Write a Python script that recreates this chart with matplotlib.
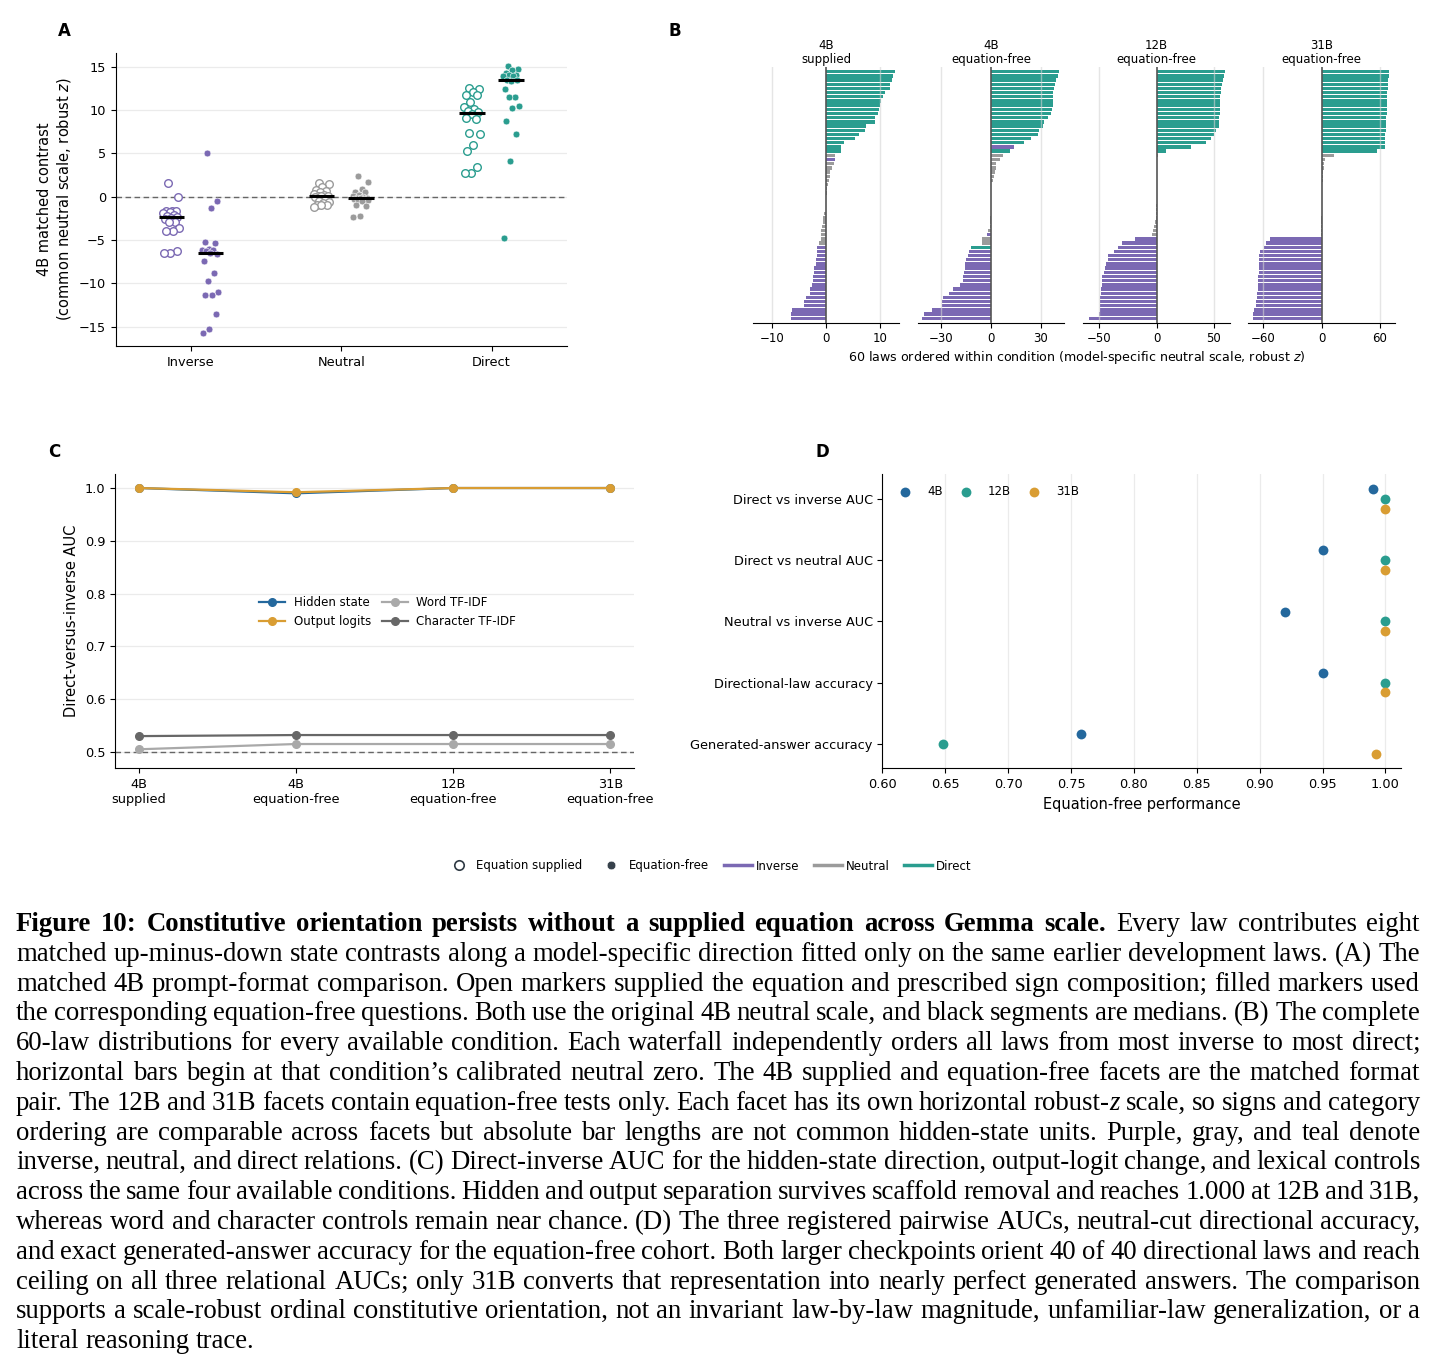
import numpy as np
import matplotlib
matplotlib.use("Agg")
import matplotlib.pyplot as plt
from matplotlib.lines import Line2D

W, H = 1439, 1371
DPI = 100

PURPLE = "#7b69b3"
GRAY = "#9b9b9b"
TEAL = "#2a9d8f"
BLUE = "#24689d"
ORANGE = "#d99d33"
LGRAY = "#a9a9a9"
DGRAY = "#676767"
GRID = "#ebebeb"

TICK_FS = 9.3
LABEL_FS = 10.5
SMALL_FS = 8.5

# ======================
# data
# ======================
# A / B: 4B with supplied equation (model neutral scale == common 4B scale)
sup4_inverse = [1.58, 0.0, -1.65, -1.65, -1.7, -1.8, -1.9, -2.15, -2.2, -2.3,
                -2.45, -2.6, -2.9, -2.95, -3.6, -4.0, -4.0, -6.25, -6.45, -6.5]
sup4_neutral = [1.62, 1.5, 1.1, 0.8, 0.7, 0.6, 0.3, 0.2, 0.12, 0.08,
                0.05, 0.02, -0.4, -0.5, -0.6, -0.7, -0.9, -0.9, -1.0, -1.2]
sup4_direct = [12.6, 12.4, 12.1, 11.7, 11.7, 10.9, 10.4, 10.1, 9.9, 9.75,
               9.6, 9.1, 9.0, 7.4, 7.2, 6.0, 5.3, 3.4, 2.8, 2.8]

# A: 4B equation-free on the common 4B scale
free4_common_inverse = [5.0, -0.54, -1.27, -5.27, -5.3, -6.0, -6.1, -6.2, -6.3, -6.6,
                        -6.5, -7.4, -8.85, -9.73, -10.96, -11.3, -11.3, -13.5, -15.3, -15.7]
free4_common_neutral = [2.4, 1.65, 0.85, 0.6, 0.5, 0.2, 0.1, 0.0, -0.1, -0.15,
                        -0.2, -0.25, -0.3, -0.35, -0.4, -0.5, -1.0, -1.1, -2.2, -2.35]
free4_common_direct = [15.1, 14.8, 14.6, 14.3, 14.1, 14.1, 14.0, 13.9, 13.5, 13.5,
                       13.4, 12.5, 11.5, 11.5, 10.5, 10.3, 8.7, 7.3, 4.1, -4.8]

# B: equation-free, model-specific scales
free4_inverse = [14.0, -0.3, -2.6, -13.2, -13.6, -15.0, -15.4, -15.8, -16.2, -16.8,
                 -16.8, -18.8, -22.6, -25.2, -28.6, -29.4, -29.4, -35.2, -40.0, -41.2]
free4_neutral = [7.0, 5.2, 2.8, 2.8, 2.4, 2.0, 1.2, 0.3, 0.2, 0.1,
                 0.05, 0.02, -0.02, -0.1, -0.45, -0.6, -0.8, -2.0, -5.2, -5.3]
free4_direct = [40.8, 40.0, 38.8, 38.6, 38.0, 37.4, 37.2, 37.0, 37.0, 36.6,
                36.2, 34.0, 31.6, 31.2, 28.6, 28.0, 24.0, 20.0, 11.6, -12.0]

free12_inverse = [-19.2, -30.5, -33.4, -37.5, -42.7, -42.7, -44.5, -45.1, -46.2, -47.4,
                  -47.7, -48.0, -48.3, -48.8, -49.1, -49.4, -49.4, -49.7, -50.0, -58.7]
free12_neutral = [0.9, 0.7, 0.5, 0.4, 0.3, 0.2, 0.15, 0.1, 0.05, 0.02,
                  -0.02, -0.05, -0.1, -0.2, -0.4, -0.9, -1.5, -2.6, -2.9, -4.1]
free12_direct = [59.9, 58.7, 58.1, 57.0, 56.4, 56.1, 55.8, 55.5, 55.5, 55.2,
                 55.2, 54.9, 54.7, 54.4, 52.0, 50.3, 47.4, 43.0, 29.9, 8.4]

free31_inverse = [-53.1, -57.6, -59.7, -63.8, -64.1, -64.5, -64.8, -64.8, -64.8, -65.2,
                  -65.2, -65.5, -65.9, -66.6, -66.9, -67.2, -67.6, -69.7, -70.3, -70.7]
free31_neutral = [13.1, 3.4, 2.8, 2.1, 1.7, 1.4, 1.0, 0.7, 0.4, 0.2,
                  0.1, 0.05, 0.0, -0.05, -0.1, -0.2, -0.3, -0.5, -0.7, -1.0]
free31_direct = [69.7, 69.3, 69.0, 68.6, 68.3, 67.9, 67.9, 67.6, 67.6, 67.2,
                 67.2, 66.9, 66.9, 66.6, 66.6, 65.9, 65.5, 65.5, 65.2, 57.6]

facet_titles = ["4B\nsupplied", "4B\nequation-free", "12B\nequation-free", "31B\nequation-free"]
facet_ticks = [[-10, 0, 10], [-30, 0, 30], [-50, 0, 50], [-60, 0, 60]]

# C: direct-versus-inverse AUC
conditions = ["4B\nsupplied", "4B\nequation-free", "12B\nequation-free", "31B\nequation-free"]
auc_hidden = [1.0, 0.990, 1.0, 1.0]
auc_logits = [1.0, 0.992, 1.0, 1.0]
auc_word = [0.505, 0.515, 0.515, 0.515]
auc_char = [0.530, 0.532, 0.532, 0.532]

# D: equation-free performance
metrics = ["Direct vs inverse AUC", "Direct vs neutral AUC", "Neutral vs inverse AUC",
           "Directional-law accuracy", "Generated-answer accuracy"]
perf_4b = [0.990, 0.950, 0.920, 0.950, 0.758]
perf_12b = [1.0, 1.0, 1.0, 1.0, 0.648]
perf_31b = [1.0, 1.0, 1.0, 1.0, 0.9925]

caption = [
    [("Figure 10: Constitutive orientation persists without a supplied equation across Gemma scale.", "bold"),
     (" Every law contributes eight", "normal")],
    [("matched up-minus-down state contrasts along a model-specific direction fitted only on the same earlier development laws. (A) The", "normal")],
    [("matched 4B prompt-format comparison. Open markers supplied the equation and prescribed sign composition; filled markers used", "normal")],
    [("the corresponding equation-free questions. Both use the original 4B neutral scale, and black segments are medians. (B) The complete", "normal")],
    [("60-law distributions for every available condition. Each waterfall independently orders all laws from most inverse to most direct;", "normal")],
    [("horizontal bars begin at that condition\u2019s calibrated neutral zero. The 4B supplied and equation-free facets are the matched format", "normal")],
    [("pair. The 12B and 31B facets contain equation-free tests only. Each facet has its own horizontal robust-", "normal"),
     ("z", "italic"), (" scale, so signs and category", "normal")],
    [("ordering are comparable across facets but absolute bar lengths are not common hidden-state units. Purple, gray, and teal denote", "normal")],
    [("inverse, neutral, and direct relations. (C) Direct-inverse AUC for the hidden-state direction, output-logit change, and lexical controls", "normal")],
    [("across the same four available conditions. Hidden and output separation survives scaffold removal and reaches 1.000 at 12B and 31B,", "normal")],
    [("whereas word and character controls remain near chance. (D) The three registered pairwise AUCs, neutral-cut directional accuracy,", "normal")],
    [("and exact generated-answer accuracy for the equation-free cohort. Both larger checkpoints orient 40 of 40 directional laws and reach", "normal")],
    [("ceiling on all three relational AUCs; only 31B converts that representation into nearly perfect generated answers. The comparison", "normal")],
    [("supports a scale-robust ordinal constitutive orientation, not an invariant law-by-law magnitude, unfamiliar-law generalization, or a", "normal")],
    [("literal reasoning trace.", "normal")],
]

# ======================
# helpers
# ======================
fig = plt.figure(figsize=(W / DPI, H / DPI), dpi=DPI)


def px_axes(left, top, right, bottom):
    return fig.add_axes([left / W, 1 - bottom / H, (right - left) / W, (bottom - top) / H])


def jitter(n, width=0.11):
    # fixed low-discrepancy spread, no randomness
    return ((np.arange(n) * 0.618034 + 0.31) % 1.0 - 0.5) * width


def panel_letter(x, y, s):
    fig.text(x / W, 1 - y / H, s, fontsize=12, fontweight="bold", ha="center", va="center")


# ======================
# A
# ======================
axA = px_axes(115.7, 52.7, 566.7, 346)
groups = [
    (0, sup4_inverse, free4_common_inverse, PURPLE),
    (1, sup4_neutral, free4_common_neutral, GRAY),
    (2, sup4_direct, free4_common_direct, TEAL),
]
for pos, sup, free, col in groups:
    for vals, dx, filled in ((sup, -0.13, False), (free, 0.13, True)):
        vals = np.asarray(vals, dtype=float)
        xs = pos + dx + jitter(len(vals))
        if filled:
            axA.scatter(xs, vals, s=24, color=col, edgecolor="white", linewidth=0.4, zorder=3)
        else:
            axA.scatter(xs, vals, s=30, facecolor="white", edgecolor=col, linewidth=1.0, zorder=3)
        med = np.median(vals)
        axA.plot([pos + dx - 0.085, pos + dx + 0.085], [med, med], color="black", lw=2.2,
                 zorder=4, solid_capstyle="butt")
axA.axhline(0, color="#666666", lw=1.0, ls=(0, (4, 2.5)), zorder=2)
axA.set_xlim(-0.5, 2.5)
axA.set_xticks([0, 1, 2])
axA.set_xticklabels(["Inverse", "Neutral", "Direct"])
axA.set_yticks([-15, -10, -5, 0, 5, 10, 15])
axA.yaxis.grid(True, color=GRID, lw=0.9)
axA.set_axisbelow(True)
axA.set_ylabel("4B matched contrast\n(common neutral scale, robust $z$)", fontsize=LABEL_FS)
axA.tick_params(labelsize=TICK_FS)
for sp in ("top", "right"):
    axA.spines[sp].set_visible(False)
panel_letter(64, 30.5, "A")

# ======================
# B
# ======================
facets = [
    (sup4_inverse, sup4_neutral, sup4_direct),
    (free4_inverse, free4_neutral, free4_direct),
    (free12_inverse, free12_neutral, free12_direct),
    (free31_inverse, free31_neutral, free31_direct),
]
lefts = [752.7, 917.7, 1083.3, 1248.3]
for left, (inv, neu, dire), title, ticks in zip(lefts, facets, facet_titles, facet_ticks):
    ax = px_axes(left, 67.3, left + 146.6, 322.7)
    vals = np.concatenate([inv, neu, dire])
    cols = np.array([PURPLE] * len(inv) + [GRAY] * len(neu) + [TEAL] * len(dire))
    order = np.argsort(vals, kind="stable")
    ax.barh(np.arange(len(vals)), vals[order], color=cols[order], height=0.8, zorder=2)
    lim = np.abs(vals).max() * 1.07
    ax.set_xlim(-lim, lim)
    ax.set_ylim(-1.05, len(vals) + 0.05)
    ax.set_xticks(ticks)
    ax.set_xticklabels([f"{t}".replace("-", "\u2212") for t in ticks])
    ax.set_yticks([])
    for t in ticks:
        if t != 0:
            ax.axvline(t, color="#d4d4d4", alpha=0.6, lw=1.0, zorder=3)
    ax.axvline(0, color="#555555", lw=1.2, zorder=4)
    for sp in ("top", "right", "left"):
        ax.spines[sp].set_visible(False)
    ax.tick_params(labelsize=8.5, length=3.5)
    ax.set_title(title, fontsize=8.5, pad=3, linespacing=1.1)
fig.text(1077 / W, 1 - 358 / H,
         "60 laws ordered within condition (model-specific neutral scale, robust $z$)",
         fontsize=9.1, ha="center", va="center")
panel_letter(675, 30.5, "B")

# ======================
# C
# ======================
axC = px_axes(115.1, 474.3, 634, 768.3)
xc = np.arange(len(conditions))
axC.plot(xc, auc_hidden, color=BLUE, marker="o", ms=5.5, lw=1.6, label="Hidden state", zorder=3)
axC.plot(xc, auc_logits, color=ORANGE, marker="o", ms=5.5, lw=1.6, label="Output logits", zorder=3)
axC.plot(xc, auc_word, color=LGRAY, marker="o", ms=5.5, lw=1.6, label="Word TF-IDF", zorder=3)
axC.plot(xc, auc_char, color=DGRAY, marker="o", ms=5.5, lw=1.6, label="Character TF-IDF", zorder=3)
axC.axhline(0.5, color="#666666", lw=1.0, ls=(0, (4, 2.5)), zorder=2)
axC.set_xlim(-0.15, 3.15)
axC.set_ylim(0.469, 1.026)
axC.set_yticks([0.5, 0.6, 0.7, 0.8, 0.9, 1.0])
axC.set_xticks(xc)
axC.set_xticklabels(conditions, linespacing=1.15)
axC.yaxis.grid(True, color=GRID, lw=0.9)
axC.set_axisbelow(True)
axC.set_ylabel("Direct-versus-inverse AUC", fontsize=LABEL_FS)
axC.tick_params(labelsize=TICK_FS)
for sp in ("top", "right"):
    axC.spines[sp].set_visible(False)
axC.legend(loc="center", bbox_to_anchor=(0.525, 0.532), ncol=2, frameon=False, fontsize=SMALL_FS,
           handlelength=2.2, handletextpad=0.75, columnspacing=0.9, labelspacing=0.5)
panel_letter(54, 452, "C")

# ======================
# D
# ======================
axD = px_axes(882.4, 474.3, 1400.5, 768.3)
yd = np.arange(len(metrics))
for vals, dy, col, lab in ((perf_4b, -0.16, BLUE, "4B"), (perf_12b, 0.0, TEAL, "12B"),
                           (perf_31b, 0.16, ORANGE, "31B")):
    axD.scatter(vals, yd + dy, s=50, color=col, zorder=3, label=lab, linewidths=0)
axD.set_xlim(0.60, 1.012)
axD.set_ylim(len(metrics) - 0.6, -0.4)
axD.set_yticks(yd)
axD.set_yticklabels(metrics)
axD.set_xticks(np.arange(0.60, 1.001, 0.05))
axD.set_xticklabels([f"{v:.2f}" for v in np.arange(0.60, 1.001, 0.05)])
axD.xaxis.grid(True, color=GRID, lw=0.9)
axD.set_axisbelow(True)
axD.set_xlabel("Equation-free performance", fontsize=LABEL_FS)
axD.tick_params(labelsize=TICK_FS)
for sp in ("top", "right"):
    axD.spines[sp].set_visible(False)
axD.legend(loc="center left", bbox_to_anchor=(0.0164, 0.941), ncol=3, frameon=False, fontsize=SMALL_FS,
           handlelength=1.6, handletextpad=1.06, columnspacing=1.18, borderaxespad=0.0)
panel_letter(822, 452, "D")

# ======================
# shared legend
# ======================
handles = [
    Line2D([], [], ls="none", marker="o", ms=6.8, mfc="white", mec="#2f3a44", mew=1.2),
    Line2D([], [], ls="none", marker="o", ms=6.2, mfc="#36414b", mec="white", mew=0.4),
    Line2D([], [], color=PURPLE, lw=2.5),
    Line2D([], [], color=GRAY, lw=2.5),
    Line2D([], [], color=TEAL, lw=2.5),
]
labels = ["Equation supplied", "Equation-free", "Inverse", "Neutral", "Direct"]
fig.legend(handles, labels, loc="center", bbox_to_anchor=(708 / W, 1 - 866 / H), ncol=5,
           frameon=False, fontsize=SMALL_FS, handlelength=2.37, handletextpad=0.3, columnspacing=1.27)

# ======================
# caption (justified lines)
# ======================
CAP_FONT = ["Liberation Serif", "DejaVu Serif"]
CAP_FS = 19.3
CAP_L, CAP_R = 16, 1420
CAP_Y0, CAP_DY = 931, 29.8
renderer = fig.canvas.get_renderer()


def text_width(s, **kw):
    t = fig.text(0, 0, s, fontsize=CAP_FS, family=CAP_FONT, **kw)
    w = t.get_window_extent(renderer).width
    t.remove()
    return w


space_w = text_width("a b") - text_width("ab")

for i, runs in enumerate(caption):
    words = [[]]
    for text, style in runs:
        parts = text.split(" ")
        for j, p in enumerate(parts):
            if j > 0:
                words.append([])
            if p:
                words[-1].append((p, style))
    words = [w for w in words if w]
    placed = []
    for w in words:
        pieces = []
        for p, style in w:
            t = fig.text(0, 0, p, fontsize=CAP_FS, family=CAP_FONT, va="baseline",
                         fontweight="bold" if style == "bold" else "normal",
                         fontstyle="italic" if style == "italic" else "normal")
            pieces.append((t, t.get_window_extent(renderer).width))
        placed.append(pieces)
    widths = [sum(pw for _, pw in pcs) for pcs in placed]
    if i < len(caption) - 1 and len(words) > 1:
        gap = (CAP_R - CAP_L - sum(widths)) / (len(words) - 1)
    else:
        gap = space_w
    y = 1 - (CAP_Y0 + i * CAP_DY) / H
    x = CAP_L
    for pcs, wsum in zip(placed, widths):
        xx = x
        for t, pw in pcs:
            t.set_position((xx / W, y))
            xx += pw
        x += wsum + gap

fig.savefig("out.png", dpi=DPI)
